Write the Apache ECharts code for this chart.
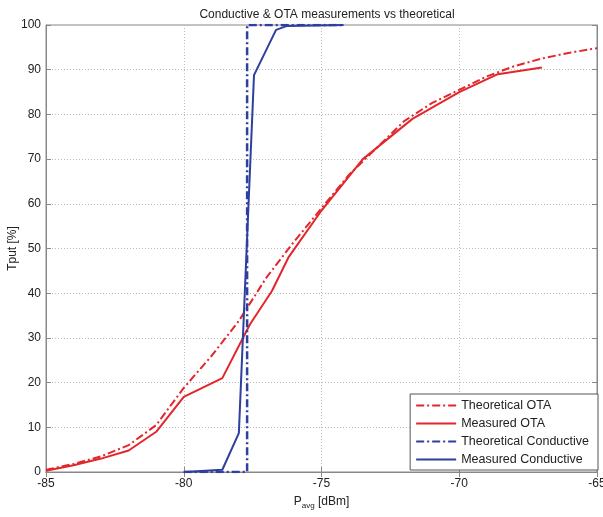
<!DOCTYPE html>
<html><head><meta charset="utf-8">
<script src="https://cdn.jsdelivr.net/npm/echarts@6/dist/echarts.min.js"></script>
<style>html,body{margin:0;padding:0;background:#fff}#c{width:603px;height:517px}</style>
</head><body><div id="c"></div>
<script>
var xTicks = [-85, -80, -75, -70, -65];
var yTicks = [0, 10, 20, 30, 40, 50, 60, 70, 80, 90, 100];

var theoOtaX = [-85, -84, -83, -82, -81, -80, -79, -78, -77, -76, -75, -74, -73, -72, -71, -70, -69, -68, -67, -66, -65];
var theoOtaY = [0.5, 1.8, 3.5, 6, 10.5, 18.8, 25.9, 33.8, 43.5, 51.5, 59, 66.5, 72.5, 78.5, 82.5, 85.5, 88.5, 90.8, 92.5, 93.8, 94.8];

var measOtaX = [-85, -84, -83, -82, -81, -80, -78.6, -77.6, -76.8, -76.2, -75, -73.5, -71.7, -70, -68.6, -67];
var measOtaY = [0.3, 1.5, 3, 4.8, 9, 16.8, 21, 33, 40.5, 48, 58.5, 70, 79, 85, 89, 90.5];

var theoCondX = [-80, -77.7, -77.7, -74.2];
var theoCondY = [0, 0, 100, 100];

var measCondX = [-80, -78.6, -78.0, -77.45, -76.65, -76.25, -74.2];
var measCondY = [0, 0.5, 8.7, 88.8, 98.9, 99.8, 100];

function pairs(xs, ys) { return xs.map(function (x, i) { return [x, ys[i]]; }); }

var RED = '#e3262b', BLUE = '#2e3f9f';
var dashDot = [8, 3, 2, 3];
var chart = echarts.init(document.getElementById('c'), null, {renderer: 'canvas'});
var font = 'Liberation Sans, Arial, sans-serif';
var grid = {left: 46, right: 6, top: 25, bottom: 45, containLabel: false, outerBoundsMode: 'none',
  show: true, borderColor: '#888', borderWidth: 1, backgroundColor: '#fff'};
var gridLine = {show: true, lineStyle: {color: '#bbb', type: [1, 2], width: 1}};
chart.setOption({
  animation: false,
  title: {text: 'Conductive & OTA measurements vs theoretical', left: 322, textAlign: 'center', top: 4,
    textStyle: {fontFamily: font, fontSize: 12, fontWeight: 'normal', color: '#222'}},
  grid: grid,
  legend: {
    right: 5, bottom: 47, orient: 'vertical', itemGap: 5, itemWidth: 40, itemHeight: 12,
    backgroundColor: '#fff', borderColor: '#555', borderWidth: 1, borderRadius: 0, padding: [5, 9, 4, 5],
    itemStyle: {opacity: 0},
    textStyle: {fontFamily: font, fontSize: 12.5, color: '#222', padding: [0, 0, 0, 0]},
    data: ['Theoretical OTA', 'Measured OTA', 'Theoretical Conductive', 'Measured Conductive']
  },
  xAxis: [{
    type: 'value', min: -85, max: -65, interval: 5, position: 'bottom',
    name: '{a|P}{b|avg}{a| [dBm]}', nameLocation: 'middle', nameGap: 22, nameMoveOverlap: false,
    nameTextStyle: {rich: {a: {fontFamily: font, fontSize: 12, color: '#222'}, b: {fontFamily: font, fontSize: 8, color: '#222', padding: [8, 0, 0, 0]}}},
    axisLine: {show: true, lineStyle: {color: '#888'}},
    axisTick: {show: true, inside: true, length: 5, lineStyle: {color: '#888'}},
    axisLabel: {fontFamily: font, fontSize: 12, color: '#222', margin: 6, formatter: function (v) { return xTicks.indexOf(v) >= 0 ? String(v) : ''; }},
    splitLine: gridLine
  }, {
    type: 'value', min: -85, max: -65, interval: 5, position: 'top',
    axisLine: {show: true, lineStyle: {color: '#888'}},
    axisTick: {show: true, inside: true, length: 5, lineStyle: {color: '#888'}},
    axisLabel: {show: false}, splitLine: {show: false}
  }],
  yAxis: [{
    type: 'value', min: 0, max: 100, interval: 10, position: 'left',
    name: 'Tput [%]', nameLocation: 'middle', nameGap: 27, nameRotate: 90, nameMoveOverlap: false,
    nameTextStyle: {fontFamily: font, fontSize: 12, color: '#222'},
    axisLine: {show: true, lineStyle: {color: '#888'}},
    axisTick: {show: true, inside: true, length: 5, lineStyle: {color: '#888'}},
    axisLabel: {fontFamily: font, fontSize: 12, color: '#222', margin: 5, formatter: function (v) { return yTicks.indexOf(v) >= 0 ? String(v) : ''; }},
    splitLine: gridLine
  }, {
    type: 'value', min: 0, max: 100, interval: 10, position: 'right',
    axisLine: {show: true, lineStyle: {color: '#888'}},
    axisTick: {show: true, inside: true, length: 5, lineStyle: {color: '#888'}},
    axisLabel: {show: false}, splitLine: {show: false}
  }],
  series: [
    {name: 'Theoretical OTA', type: 'line', data: pairs(theoOtaX, theoOtaY), showSymbol: false, symbol: 'none', color: RED,
      lineStyle: {color: RED, width: 2, type: dashDot}, z: 3},
    {name: 'Measured OTA', type: 'line', data: pairs(measOtaX, measOtaY), showSymbol: false, symbol: 'none', color: RED,
      lineStyle: {color: RED, width: 2}, z: 3},
    {name: 'Theoretical Conductive', type: 'line', data: pairs(theoCondX, theoCondY), showSymbol: false, symbol: 'none', color: BLUE,
      lineStyle: {color: BLUE, width: 2.5, type: dashDot}, z: 4},
    {name: 'Measured Conductive', type: 'line', data: pairs(measCondX, measCondY), showSymbol: false, symbol: 'none', color: BLUE,
      lineStyle: {color: BLUE, width: 2}, z: 4}
  ]
});
</script></body></html>
